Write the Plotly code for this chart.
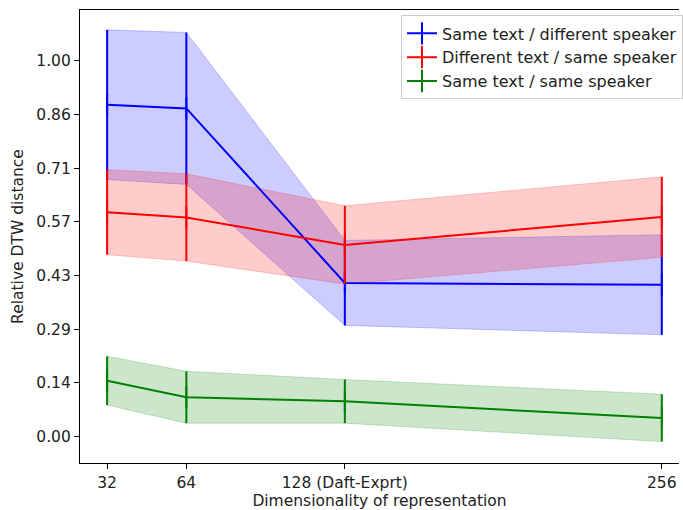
import plotly.graph_objects as go

dims = [32, 64, 128, 256]
tick_labels = ["32", "64", "128 (Daft-Exprt)", "256"]

names = ["Same text / different speaker", "Different text / same speaker", "Same text / same speaker"]
means_blue = [0.883, 0.873, 0.409, 0.404]
std_blue = [0.199, 0.202, 0.113, 0.133]
means_red = [0.597, 0.583, 0.510, 0.584]
std_red = [0.113, 0.116, 0.104, 0.107]
means_green = [0.149, 0.105, 0.094, 0.050]
std_green = [0.065, 0.069, 0.058, 0.063]

y_tickvals = [k / 7 for k in range(8)]
y_ticktext = ["0.00", "0.14", "0.29", "0.43", "0.57", "0.71", "0.86", "1.00"]

series = [
    (names[0], means_blue, std_blue, "blue", "rgba(0,0,255,0.2)"),
    (names[1], means_red, std_red, "red", "rgba(255,0,0,0.2)"),
    (names[2], means_green, std_green, "green", "rgba(0,128,0,0.2)"),
]

fig = go.Figure()
FONT = "DejaVu Sans"
TXT = "#222222"
FS = 15.5

# bands first (below lines)
for name, m, s, col, fcol in series:
    upper = [a + b for a, b in zip(m, s)]
    lower = [a - b for a, b in zip(m, s)]
    fig.add_trace(go.Scatter(x=dims, y=upper, mode="lines", line=dict(color=fcol, width=1),
                             showlegend=False, hoverinfo="skip"))
    fig.add_trace(go.Scatter(x=dims, y=lower, mode="lines", line=dict(color=fcol, width=1),
                             fill="tonexty", fillcolor=fcol, showlegend=False, hoverinfo="skip"))

for name, m, s, col, fcol in series:
    fig.add_trace(go.Scatter(
        x=dims, y=m, mode="lines+markers", name=name,
        line=dict(color=col, width=2),
        marker=dict(symbol="line-ns", size=16, line=dict(color=col, width=2), color=col),
        error_y=dict(type="data", array=s, visible=True, color=col, thickness=2, width=0),
    ))

fig.update_layout(
    width=683, height=510,
    margin=dict(l=80, r=0, t=10, b=47),
    plot_bgcolor="white", paper_bgcolor="white",
    font=dict(family=FONT, size=FS, color=TXT),
    showlegend=True,
    legend=dict(x=0.536, y=0.988, xanchor="left", yanchor="top", traceorder="normal",
                bgcolor="rgba(255,255,255,0.8)", bordercolor="#cccccc", borderwidth=1,
                font=dict(family=FONT, size=16, color=TXT),
                tracegroupgap=0, itemwidth=30),
    xaxis=dict(
        range=[21.05, 262.94], tickmode="array", tickvals=dims, ticktext=tick_labels,
        showgrid=False, zeroline=False, showline=True, linecolor="black", linewidth=1.1,
        mirror=True, ticks="outside", ticklen=5, tickcolor="black", tickwidth=1,
        automargin=False,
        tickfont=dict(family=FONT, size=FS, color=TXT),
        title=dict(text="Dimensionality of representation", standoff=5,
                   font=dict(family=FONT, size=FS, color=TXT)),
    ),
    yaxis=dict(
        range=[-0.0699, 1.1347], tickmode="array", tickvals=y_tickvals, ticktext=y_ticktext,
        showgrid=False, zeroline=False, showline=True, linecolor="black", linewidth=1.1,
        mirror=False, ticks="outside", ticklen=5, tickcolor="black", tickwidth=1,
        automargin=False,
        tickfont=dict(family=FONT, size=FS, color=TXT),
        title=dict(text="Relative DTW distance", standoff=8,
                   font=dict(family=FONT, size=FS, color=TXT)),
    ),
)

fig.write_html("out.html", config={"displayModeBar": False},
               post_script="document.body.style.margin='0px';document.body.style.overflow='hidden';")
